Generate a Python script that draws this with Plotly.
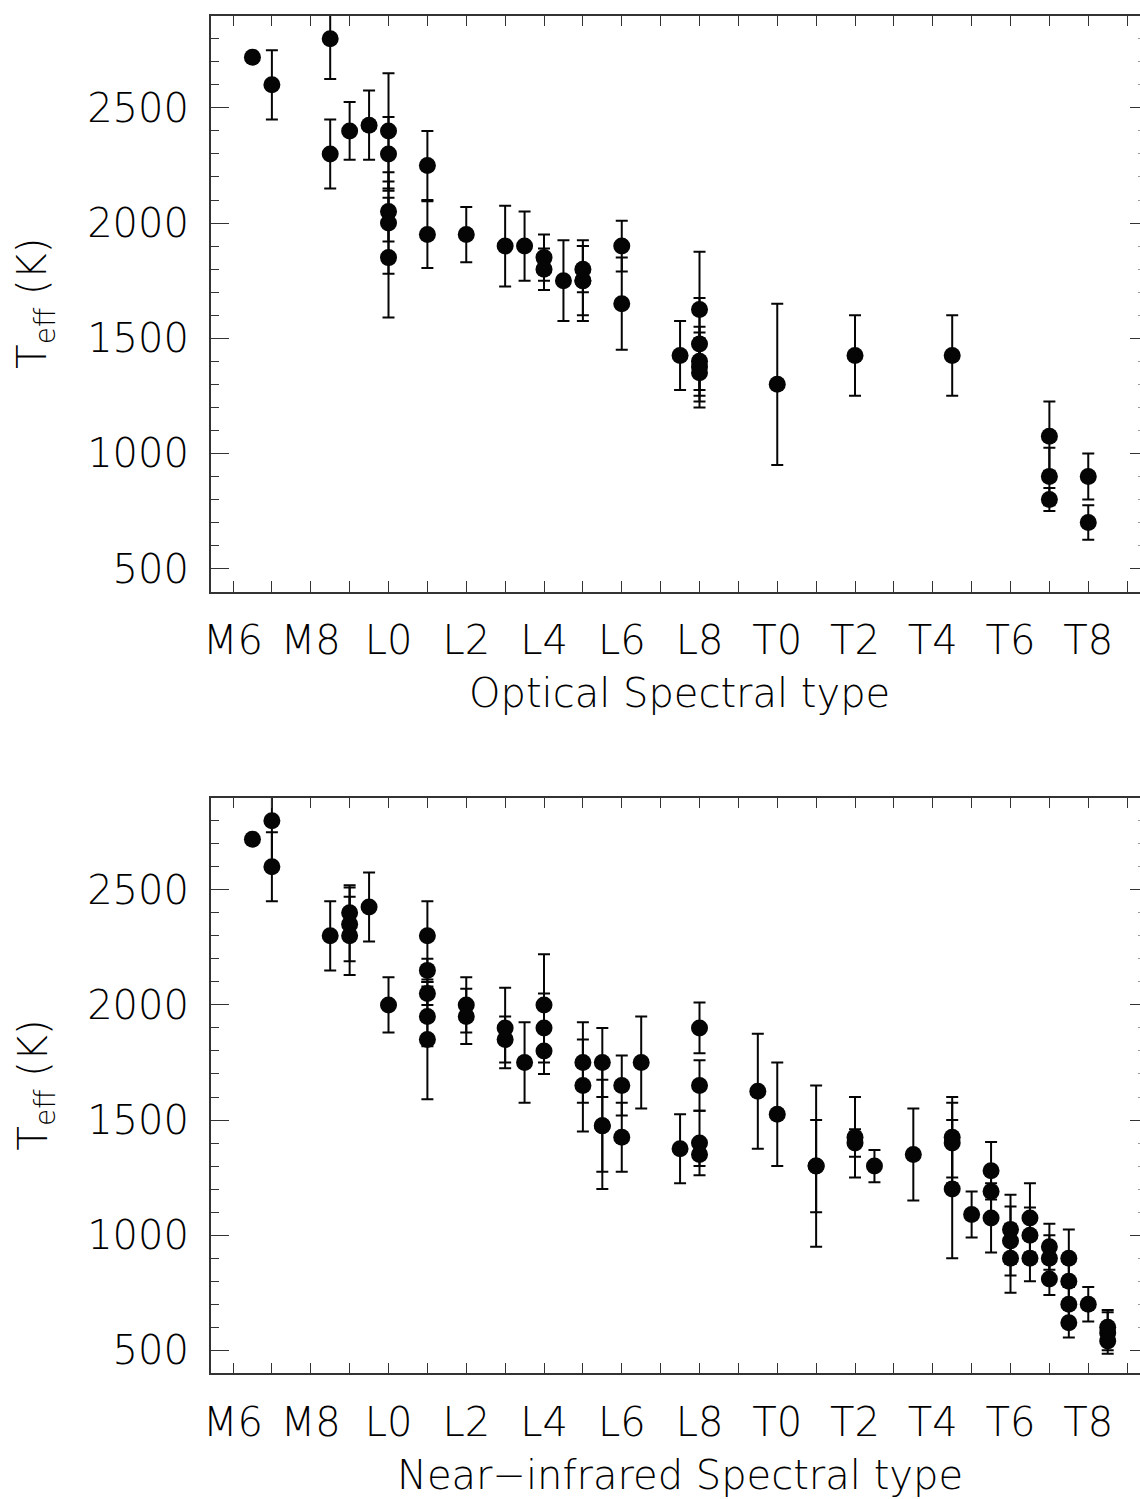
import plotly.graph_objects as go

# ---------------- data ----------------
# spectral type numeric code: M0=0 ... M9=9, L0=10 ... L9=19, T0=20 ... T9=29
top_spt = [6.5, 7, 8.5, 8.5, 9, 9.5, 10, 10, 10, 10, 10, 11, 11, 12, 13, 13.5,
           14, 14, 14.5, 15, 15, 15, 16, 16, 17.5, 18, 18, 18, 18, 18, 20, 22,
           24.5, 27, 27, 27, 28, 28]
top_teff = [2720, 2600, 2800, 2300, 2400, 2425, 2400, 2300, 2050, 2000, 1850,
            2250, 1950, 1950, 1900, 1900, 1850, 1800, 1750, 1800, 1750, 1750,
            1900, 1650, 1425, 1625, 1475, 1400, 1375, 1350, 1300, 1425, 1425,
            1075, 900, 800, 900, 700]
top_err = [0, 150, 175, 150, 125, 150, 250, 160, 130, 220, 260, 150, 145, 120,
           175, 150, 100, 90, 175, 100, 175, 150, 110, 200, 150, 250, 200, 150,
           150, 150, 350, 175, 175, 150, 125, 50, 100, 75]

bot_spt = [6.5, 7, 7, 8.5, 9, 9, 9, 9.5, 10, 11, 11, 11, 11, 11, 12, 12, 13, 13,
           13.5, 14, 14, 14, 15, 15, 15.5, 15.5, 15.5, 16, 16, 16.5, 17.5, 18,
           18, 18, 18, 19.5, 20, 21, 21, 22, 22, 22.5, 23.5, 24.5, 24.5, 24.5,
           25, 25.5, 25.5, 25.5, 26, 26, 26, 26.5, 26.5, 26.5, 27, 27, 27, 27.5,
           27.5, 27.5, 27.5, 28, 28.5, 28.5, 28.5]
bot_teff = [2720, 2800, 2600, 2300, 2400, 2350, 2300, 2425, 2000, 2300, 2150,
            2050, 1950, 1850, 2000, 1950, 1900, 1850, 1750, 2000, 1900, 1800,
            1750, 1650, 1750, 1475, 1475, 1650, 1425, 1750, 1375, 1900, 1650,
            1400, 1350, 1625, 1525, 1300, 1300, 1425, 1400, 1300, 1350, 1425,
            1400, 1200, 1090, 1280, 1190, 1075, 1025, 975, 900, 1075, 1000, 900,
            950, 900, 810, 900, 800, 700, 620, 700, 600, 575, 540]
bot_err = [0, 200, 150, 150, 120, 160, 170, 150, 120, 150, 50, 50, 130, 260,
           120, 120, 175, 100, 175, 220, 150, 100, 175, 200, 150, 200, 275, 130,
           150, 200, 150, 110, 110, 140, 50, 250, 225, 350, 200, 175, 60, 70,
           200, 175, 175, 300, 100, 125, 100, 150, 150, 150, 150, 150, 120, 100,
           100, 100, 70, 125, 100, 75, 65, 75, 75, 90, 40]

tick_pos = [6, 8, 10, 12, 14, 16, 18, 20, 22, 24, 26, 28]
tick_labels = ["M6", "M8", "L0", "L2", "L4", "L6", "L8", "T0", "T2", "T4", "T6", "T8"]
y_ticks = [500, 1000, 1500, 2000, 2500]

x_titles = ["Optical Spectral type", "Near\u2212infrared Spectral type"]
y_title = "T<sub>eff</sub> (K)"

# ---------------- geometry (pixels of the 1140x1499 page) ----------------
W, H = 1140, 1499
left_px = 210.7
panels = [(15.7, 591.7), (797.7, 1373.3)]   # top, bottom of each plot area
XR = [5.426, 29.331]
YR = [400, 2900]

FONT = "DejaVu Sans"
FS = 40
FW = 200
TXT = "#000000"
AX = "#333333"

fig = go.Figure()

series = [(top_spt, top_teff, top_err), (bot_spt, bot_teff, bot_err)]
for i, (sx, sy, se) in enumerate(series):
    xa = "x" if i == 0 else "x2"
    ya = "y" if i == 0 else "y2"
    fig.add_trace(go.Scatter(
        x=sx, y=sy, mode="markers", xaxis=xa, yaxis=ya,
        marker=dict(size=17, color="#050505", line=dict(width=0)),
        error_y=dict(type="data", array=se, symmetric=True, color="#050505",
                     thickness=2, width=6),
        showlegend=False, hoverinfo="skip", cliponaxis=True))
    # empty trace so the right-hand tick axis exists
    fig.add_trace(go.Scatter(x=[], y=[], xaxis=xa, yaxis="y3" if i == 0 else "y4",
                             showlegend=False, hoverinfo="skip"))

def ydom(t, b):
    return [1 - b / H, 1 - t / H]

xdom = [left_px / W, 1.0]
tfont = dict(family=FONT, size=FS, color=TXT, weight=FW)

common_x = dict(
    range=XR, domain=xdom, showgrid=False, zeroline=False,
    showline=True, linecolor=AX, linewidth=1.5, mirror="ticks",
    ticks="inside", ticklen=11, tickwidth=1.3, tickcolor=AX,
    tickmode="array", tickvals=tick_pos, ticktext=tick_labels,
    minor=dict(tickmode="linear", tick0=6, dtick=1, ticks="inside", ticklen=11,
               tickwidth=1.3, tickcolor=AX),
    tickfont=tfont, ticklabelstandoff=13, automargin=False, fixedrange=True)

common_y = dict(
    range=YR, showgrid=False, zeroline=False,
    showline=True, linecolor=AX, linewidth=1.5, mirror=False,
    ticks="inside", ticklen=19, tickwidth=1.3, tickcolor=AX,
    tickmode="array", tickvals=y_ticks,
    minor=dict(tickmode="linear", tick0=0, dtick=100, ticks="inside", ticklen=9,
               tickwidth=1.3, tickcolor=AX),
    tickfont=tfont, ticklabelstandoff=12, automargin=False, fixedrange=True)

right_y = dict(
    range=YR, showgrid=False, zeroline=False, showline=False,
    side="right", ticks="inside", ticklen=10, tickwidth=1.3, tickcolor=AX,
    tickmode="array", tickvals=y_ticks, showticklabels=False,
    minor=dict(tickmode="linear", tick0=0, dtick=100, ticks="inside", ticklen=2,
               tickwidth=1.3, tickcolor="#999999"),
    fixedrange=True)

fig.update_layout(
    width=W, height=H,
    margin=dict(l=0, r=0, t=0, b=0, pad=0),
    paper_bgcolor="white", plot_bgcolor="white",
    xaxis=dict(common_x, anchor="y"),
    xaxis2=dict(common_x, anchor="y2"),
    yaxis=dict(common_y, anchor="x", domain=ydom(*panels[0])),
    yaxis2=dict(common_y, anchor="x2", domain=ydom(*panels[1])),
    yaxis3=dict(right_y, anchor="x", overlaying="y", domain=ydom(*panels[0])),
    yaxis4=dict(right_y, anchor="x2", overlaying="y2", domain=ydom(*panels[1])),
)

annotations = []
title_y_px = [693, 1475]
for i, (t, b) in enumerate(panels):
    annotations.append(dict(
        text=x_titles[i], xref="paper", yref="paper",
        x=(left_px + 1149) / 2 / W, y=1 - title_y_px[i] / H,
        xanchor="center", yanchor="middle", showarrow=False, font=tfont))
    annotations.append(dict(
        text=y_title, xref="paper", yref="paper",
        x=35 / W, y=1 - (t + b) / 2 / H, textangle=-90,
        xanchor="center", yanchor="middle", showarrow=False, font=tfont))
fig.update_layout(annotations=annotations)

fig.write_html("out.html")
